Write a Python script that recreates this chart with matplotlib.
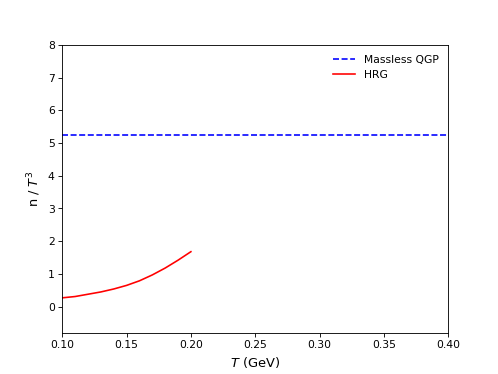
import numpy as np
import matplotlib
matplotlib.use("Agg")
import matplotlib.pyplot as plt

# Datos
T_hrg = np.array([0.100, 0.110, 0.120, 0.130, 0.140, 0.150, 0.160, 0.170, 0.180, 0.190, 0.200])
n_hrg = np.array([0.27, 0.31, 0.38, 0.45, 0.54, 0.65, 0.79, 0.97, 1.18, 1.42, 1.68])

T_qgp = np.array([0.10, 0.40])
n_qgp = np.array([5.23, 5.23])

fig = plt.figure(figsize=(6.4, 4.807), dpi=77.8125)
ax = fig.add_subplot(111)

ax.plot(T_qgp, n_qgp, "b--", label="Massless QGP")
ax.plot(T_hrg, n_hrg, "r-", label="HRG")

ax.set_xlim(0.10, 0.40)
ax.set_ylim(-0.8, 8)
ax.set_xlabel("$T$ (GeV)", fontsize=12)
ax.set_ylabel("n / $T^3$", fontsize=12)
ax.legend(frameon=False, loc="upper right")

fig.savefig("out.png", dpi=77.8125)
